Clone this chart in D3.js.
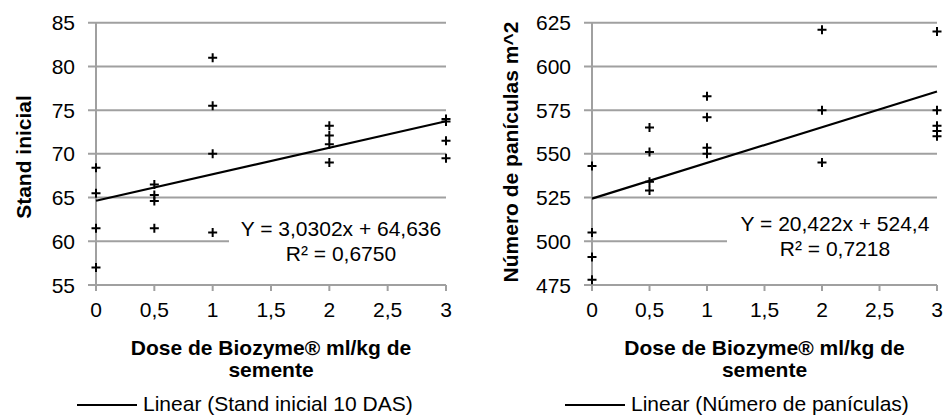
<!DOCTYPE html>
<html>
<head>
<meta charset="utf-8">
<script src="https://cdn.jsdelivr.net/npm/d3@7"></script>
<style>
  body { margin: 0; background: #fff; }
  text { font-family: "Liberation Sans", Arial, sans-serif; fill: #000; }
</style>
</head>
<body>
<script>
var width = 947,
    height = 415;

// dose of Biozyme (ml/kg), shared tick labels
var xTicks = [0, 0.5, 1, 1.5, 2, 2.5, 3];

// left chart: stand inicial 10 DAS
var standDose = [0, 0, 0, 0, 0.5, 0.5, 0.5, 0.5, 1, 1, 1, 1, 2, 2, 2, 2, 3, 3, 3, 3];
var standVal  = [68.4, 65.5, 61.5, 57.0, 66.5, 65.3, 64.6, 61.5, 81.0, 75.5, 70.0, 61.0,
                 73.2, 72.1, 71.1, 69.0, 74.0, 73.7, 71.5, 69.5];
var standTicks = [55, 60, 65, 70, 75, 80, 85];
var standFit = { a: 3.0302, b: 64.636 };

// right chart: numero de paniculas m^2
var panDose = [0, 0, 0, 0, 0.5, 0.5, 0.5, 0.5, 1, 1, 1, 1, 2, 2, 2, 3, 3, 3, 3, 3];
var panVal  = [543, 505, 491, 478, 565, 551, 534, 529, 583, 571, 553.5, 550,
               621, 575, 545, 620, 575, 566, 563, 560];
var panTicks = [475, 500, 525, 550, 575, 600, 625];
var panFit = { a: 20.422, b: 524.4 };

var fmt = function(v){ return String(v).replace(".", ","); };

var svg = d3.select("body").append("svg")
    .attr("width", width)
    .attr("height", height);

function drawChart(o){
  var g = svg.append("g");
  var x = d3.scaleLinear().domain([0, 3]).range([o.x0, o.x1]);
  var y = d3.scaleLinear().domain(d3.extent(o.ticks)).range([285, 22.7]);

  // gridlines (extend left past the axis as tick marks)
  g.selectAll(".grid")
    .data(o.ticks)
    .enter().append("line")
    .attr("x1", o.x0 - 8)
    .attr("x2", o.x1)
    .attr("y1", function(d){ return y(d); })
    .attr("y2", function(d){ return y(d); })
    .attr("stroke", "#a0a0a0")
    .attr("stroke-width", 2);

  // y axis line
  g.append("line")
    .attr("x1", o.x0).attr("x2", o.x0)
    .attr("y1", y(o.ticks[o.ticks.length - 1])).attr("y2", 291)
    .attr("stroke", "#a0a0a0").attr("stroke-width", 2);

  // x ticks
  g.selectAll(".xt")
    .data(xTicks)
    .enter().append("line")
    .attr("x1", function(d){ return x(d); })
    .attr("x2", function(d){ return x(d); })
    .attr("y1", 285).attr("y2", 291)
    .attr("stroke", "#a0a0a0").attr("stroke-width", 2);

  g.selectAll(".xl")
    .data(xTicks)
    .enter().append("text")
    .attr("x", function(d){ return x(d); })
    .attr("y", 317)
    .attr("text-anchor", "middle")
    .style("font-size", "21px")
    .text(fmt);

  g.selectAll(".yl")
    .data(o.ticks)
    .enter().append("text")
    .attr("x", o.x0 - 21)
    .attr("y", function(d){ return y(d); })
    .attr("dy", "0.36em")
    .attr("text-anchor", "end")
    .style("font-size", "21px")
    .text(fmt);

  // equation label with white box (hides part of a gridline)
  g.append("rect")
    .attr("x", o.boxX).attr("y", o.boxY)
    .attr("width", o.x1 + 2 - o.boxX).attr("height", 48)
    .attr("fill", "#fff");

  g.append("text")
    .attr("x", o.eqX).attr("y", o.eqY)
    .attr("text-anchor", "middle")
    .style("font-size", "21px")
    .text("Y = " + fmt(o.fit.a) + "x + " + fmt(o.fit.b));
  g.append("text")
    .attr("x", o.eqX).attr("y", o.eqY + 25)
    .attr("text-anchor", "middle")
    .style("font-size", "21px")
    .text("R\u00b2 = " + o.r2);

  // trend line
  var line = d3.line()
    .x(function(d){ return x(d); })
    .y(function(d){ return y(o.fit.a * d + o.fit.b); });
  g.append("path")
    .datum([0, 3])
    .attr("d", line)
    .attr("stroke", "#000")
    .attr("stroke-width", 2.2)
    .attr("fill", "none");

  // points as plus markers
  g.selectAll(".pt")
    .data(o.xs)
    .enter().append("path")
    .attr("transform", function(d, i){ return "translate(" + x(d) + "," + y(o.ys[i]) + ")"; })
    .attr("d", "M-4.5,0H4.5M0,-4.5V4.5")
    .attr("stroke", "#000")
    .attr("stroke-width", 2)
    .attr("fill", "none");

  // axis titles
  g.append("text")
    .attr("transform", "translate(" + o.yTitleX + "," + o.yTitleY + ") rotate(-90)")
    .attr("text-anchor", "middle")
    .style("font-size", "21px")
    .style("font-weight", "bold")
    .text(o.yTitle);

  var cx = (o.x0 + o.x1) / 2;
  g.append("text")
    .attr("x", cx).attr("y", 355)
    .attr("text-anchor", "middle")
    .style("font-size", "21px")
    .style("font-weight", "bold")
    .text("Dose de Biozyme\u00ae ml/kg de");
  g.append("text")
    .attr("x", cx).attr("y", 377)
    .attr("text-anchor", "middle")
    .style("font-size", "21px")
    .style("font-weight", "bold")
    .text("semente");

  // legend
  g.append("line")
    .attr("x1", o.legX).attr("x2", o.legX + 60)
    .attr("y1", 405).attr("y2", 405)
    .attr("stroke", "#000").attr("stroke-width", 2);
  g.append("text")
    .attr("x", o.legX + 66).attr("y", 411)
    .style("font-size", "21px")
    .text(o.legend);
}

drawChart({
  x0: 96, x1: 446, xs: standDose, ys: standVal, ticks: standTicks, fit: standFit,
  r2: "0,6750", boxX: 229, boxY: 216, eqX: 341, eqY: 236,
  yTitle: "Stand inicial", yTitleX: 31, yTitleY: 157,
  legX: 77, legend: "Linear (Stand inicial 10 DAS)"
});

drawChart({
  x0: 592, x1: 937, xs: panDose, ys: panVal, ticks: panTicks, fit: panFit,
  r2: "0,7218", boxX: 727, boxY: 210, eqX: 835, eqY: 231,
  yTitle: "N\u00famero de pan\u00edculas m^2", yTitleX: 518, yTitleY: 152,
  legX: 565, legend: "Linear (N\u00famero de pan\u00edculas)"
});
</script>
</body>
</html>
